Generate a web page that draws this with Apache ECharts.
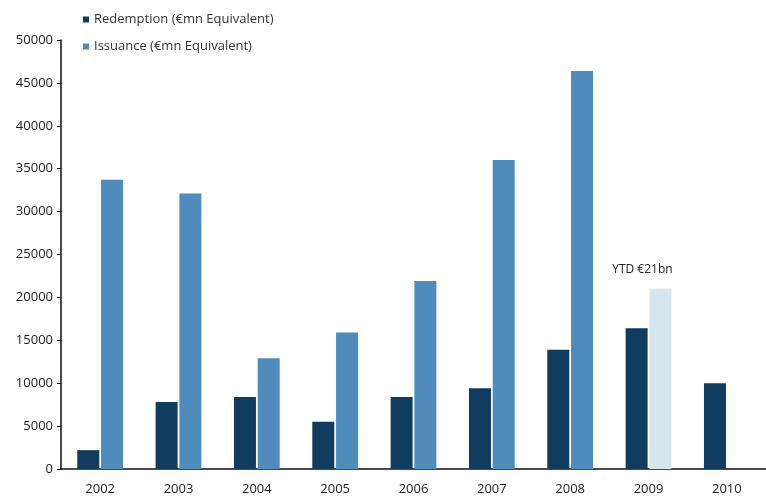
<!DOCTYPE html>
<html>
<head>
<meta charset="utf-8">
<script src="https://cdn.jsdelivr.net/npm/echarts@6/dist/echarts.min.js"></script>
<style>
  html, body { margin: 0; padding: 0; background: #fff; }
  #chart { width: 766px; height: 497px; }
</style>
</head>
<body>
<div id="chart"></div>
<script>
// data
const years = ["2002", "2003", "2004", "2005", "2006", "2007", "2008", "2009", "2010"];
const redemption = [2200, 7800, 8400, 5500, 8400, 9400, 13900, 16400, 10000];
const issuance = [33700, 32100, 12900, 15900, 21900, 36000, 46400, 21000, null];
const ytdIndex = 7;
const ytdLabel = "YTD €21bn";

const FONT = "Open Sans";
const DARK = "#103c60";
const MID = "#4f8bbb";
const LIGHT = "#d7e5ee";

const chart = echarts.init(document.getElementById("chart"));

const issuanceData = issuance.map((v, i) => {
  if (i !== ytdIndex) return v;
  return {
    value: v,
    itemStyle: { color: LIGHT },
    label: {
      show: true,
      position: "top",
      formatter: ytdLabel,
      offset: [-18, -8],
      color: "#222",
      fontFamily: FONT,
      fontSize: 12,
    },
  };
});

chart.setOption({
  animation: false,
  backgroundColor: "#fff",
  textStyle: { fontFamily: FONT },
  legend: {
    orient: "vertical",
    left: 78,
    top: 8,
    itemWidth: 6,
    itemHeight: 6,
    itemGap: 14,
    icon: "rect",
    textStyle: { color: "#333", fontSize: 13, fontFamily: FONT },
    data: ["Redemption (€mn Equivalent)", "Issuance (€mn Equivalent)"],
  },
  grid: { left: 61, right: 0, top: 40, bottom: 28 },
  xAxis: {
    type: "category",
    data: years,
    axisLine: { lineStyle: { color: "#111", width: 1.5 } },
    axisTick: { length: 5, lineStyle: { color: "#111" } },
    axisLabel: { color: "#222", fontSize: 13, margin: 14, fontFamily: FONT },
  },
  yAxis: {
    type: "value",
    min: 0,
    max: 50000,
    interval: 5000,
    splitLine: { show: false },
    axisLine: { show: true, lineStyle: { color: "#111", width: 1.5 } },
    axisTick: { show: true, length: 4, lineStyle: { color: "#111" } },
    axisLabel: {
      color: "#222",
      fontSize: 13,
      margin: 8,
      fontFamily: FONT,
      formatter: (v) => String(v),
    },
  },
  series: [
    {
      name: "Redemption (€mn Equivalent)",
      type: "bar",
      data: redemption,
      barWidth: 22,
      barGap: "8%",
      itemStyle: { color: DARK },
    },
    {
      name: "Issuance (€mn Equivalent)",
      type: "bar",
      data: issuanceData,
      barWidth: 22,
      itemStyle: { color: MID },
    },
  ],
});
</script>
</body>
</html>
